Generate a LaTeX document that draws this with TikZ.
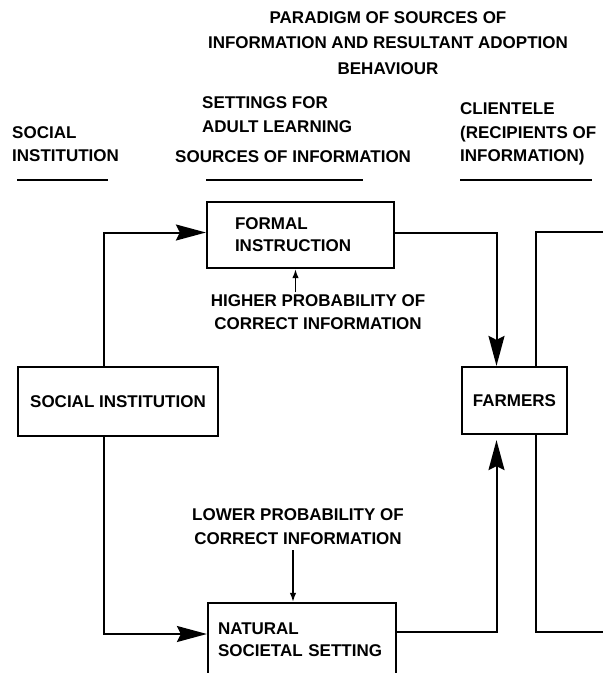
\documentclass[tikz,border=0pt]{standalone}
\usepackage{fontspec}
\setmainfont{Liberation Sans}
\usetikzlibrary{arrows.meta}

\begin{document}
\begin{tikzpicture}[x=1pt, y=-1pt,
    font=\fontsize{17}{23.5}\selectfont\bfseries,
    stagebox/.style={rectangle, draw, line width=2.2pt, fill=white, inner sep=0pt,
                 font=\fontsize{17}{22}\selectfont\bfseries},
    hdr/.style={anchor=west, align=left, inner sep=0pt},
    note/.style={align=center, inner sep=0pt},
    uline/.style={line width=2.2pt},
    arrow/.style={-{Stealth[length=30pt, width=16pt, inset=4pt]}, line width=2pt},
    thinarrow/.style={-{Latex[length=9pt, width=6.5pt]}, line width=1.6pt}
]
    \useasboundingbox (0,0) rectangle (603,673);
    \clip (0,0) rectangle (603,673);

    % headings
    \node[note, font=\fontsize{17}{25.5}\selectfont\bfseries] (title) at (388,43)
        {PARADIGM OF SOURCES OF\\INFORMATION AND RESULTANT ADOPTION\\BEHAVIOUR};
    \node[hdr] (hsocial) at (12,144)  {SOCIAL\\INSTITUTION};
    \node[hdr, font=\fontsize{17}{24}\selectfont\bfseries] (hsettings) at (202,115) {SETTINGS FOR\\ADULT LEARNING};
    \node[hdr] (hsources) at (175,157) {SOURCES OF INFORMATION};
    \node[hdr] (hclient)  at (460,134) {CLIENTELE\\(RECIPIENTS OF\\INFORMATION)};

    \draw[uline] (17,180)  -- (108,180);
    \draw[uline] (206,180) -- (363,180);
    \draw[uline] (460,180) -- (592,180);

    % boxes
    \node[stagebox, fill=none, minimum width=160pt, minimum height=400pt] (nextbox) at (616,432) {};
    \node[stagebox, text width=131pt, inner xsep=28pt, minimum height=66pt, align=left] (formal)  at (300.5,235) {FORMAL\\INSTRUCTION};
    \node[stagebox, minimum width=200pt, minimum height=69pt] (social)  at (118,401.5) {SOCIAL INSTITUTION};
    \node[stagebox, minimum width=105pt, minimum height=67pt] (farmers) at (514.5,400.5) {FARMERS};
    \node[stagebox, text width=168pt, inner xsep=10pt, minimum height=74pt, align=left] (natural) at (302,640) {NATURAL\\SOCIETAL SETTING};

    \node[note] (higher) at (318,312)   {HIGHER PROBABILITY OF\\CORRECT INFORMATION};
    \node[note] (lower)  at (298,526.5) {LOWER PROBABILITY OF\\CORRECT INFORMATION};

    % connectors
    \draw[arrow] ([xshift=-14pt]social.north) |- ([yshift=2.5pt]formal.west);
    \draw[arrow] ([xshift=-14pt]social.south) |- ([yshift=6pt]natural.west);
    \draw[arrow] ([yshift=2pt]formal.east) -| ([xshift=-18pt]farmers.north);
    \draw[arrow, shorten >=5pt] ([yshift=8pt]natural.east) -| ([xshift=-18pt]farmers.south);
    \draw[thinarrow, shorten <=2pt] ([xshift=-5pt]formal.south |- higher.north) -- ([xshift=-5pt]formal.south);
    \draw[thinarrow, shorten <=6pt] ([xshift=-9pt]natural.north |- lower.south) -- ([xshift=-9pt]natural.north);
\end{tikzpicture}
\end{document}
